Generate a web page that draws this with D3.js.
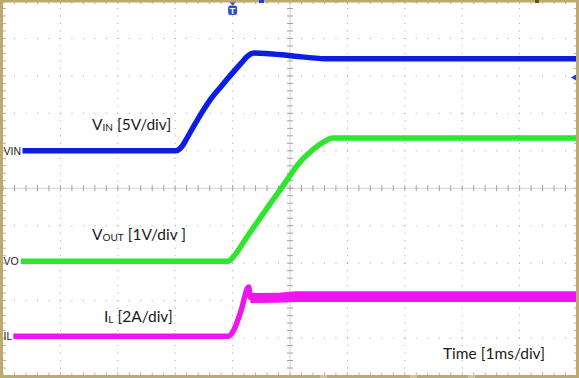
<!DOCTYPE html>
<html>
<head>
<meta charset="utf-8">
<script src="https://cdn.jsdelivr.net/npm/d3@7"></script>
<style>
  body { margin: 0; background: #fff; }
  svg { display: block; }
</style>
</head>
<body>
<svg id="chart" width="579" height="378"></svg>
<script>
// Scope capture, time in ms (trigger at 0), values in channel units
const vinTime  = [-3.66, -0.99, -0.88, -0.78, -0.60, -0.40, -0.20, 0.0, 0.15, 0.27, 0.37, 0.58, 1.01, 1.62, 6.0];
const vinVolts = [0, 0, 0.6, 1.9, 4.3, 6.7, 8.6, 10.4, 11.7, 12.7, 13.05, 13.0, 12.7, 12.3, 12.3];

const voutTime  = [-3.69, -0.07, 0.0, 0.26, 0.61, 0.87, 1.18, 1.40, 1.58, 1.74, 6.0];
const voutVolts = [0, 0, 0.1, 0.67, 1.44, 2.0, 2.66, 2.98, 3.18, 3.29, 3.29];

const ilTime = [-3.82, -0.07, 0.02, 0.14, 0.28, 0.31, 6.0];
const ilAmps = [0, 0, 0.32, 1.29, 2.62, 2.06, 2.06];

// ripple envelope of the inductor current once switching starts
const ilRippleTime = [0.31, 0.8, 1.1, 6.0];
const ilRippleHigh = [2.30, 2.32, 2.40, 2.40];
const ilRippleLow  = [1.77, 1.78, 1.82, 1.82];

const xDivs = d3.range(-4, 7);      // 1 ms/div
const yDivs = d3.range(-5, 6);

const svg = d3.select("#chart");

const x = d3.scaleLinear().domain([-4, 6]).range([3, 577]);
const y = d3.scaleLinear().domain([-5, 5]).range([375.5, 1]);

const minorX = d3.range(-4, 6.001, 0.2);
const minorY = d3.range(-5, 5.001, 0.2);

// dotted graticule
const grid = svg.append("g").attr("fill", "#a0a0a0");
xDivs.filter(d => d > -4 && d < 6 && d !== 1).forEach(d => {
  grid.selectAll(null)
    .data(minorY)
    .join("rect")
    .attr("x", x(d) - 0.5)
    .attr("y", v => y(v) - 0.5)
    .attr("width", 1)
    .attr("height", 1);
});
yDivs.filter(d => d > -5 && d < 5 && d !== 0).forEach(d => {
  grid.selectAll(null)
    .data(minorX)
    .join("rect")
    .attr("x", v => x(v) - 0.5)
    .attr("y", y(d) - 0.5)
    .attr("width", 1)
    .attr("height", 1);
});

// center axes with minor ticks
const center = svg.append("g").attr("stroke-width", 1);
center.append("line")
  .attr("x1", x(-4)).attr("x2", x(6))
  .attr("y1", y(0)).attr("y2", y(0))
  .attr("stroke", "#d2d2d2");
center.append("line")
  .attr("x1", x(1)).attr("x2", x(1))
  .attr("y1", y(-5)).attr("y2", y(5))
  .attr("stroke", "#d2d2d2");
center.selectAll(".tx")
  .data(minorX)
  .join("line")
  .attr("x1", d => x(d)).attr("x2", d => x(d))
  .attr("y1", y(0) - 3).attr("y2", y(0) + 3)
  .attr("stroke", "#a0a0a0");
center.selectAll(".ty")
  .data(minorY)
  .join("line")
  .attr("y1", d => y(d)).attr("y2", d => y(d))
  .attr("x1", x(1) - 3).attr("x2", x(1) + 3)
  .attr("stroke", "#a0a0a0");

// border ticks
const edge = svg.append("g").attr("stroke", "#b0b0b0").attr("stroke-width", 1);
edge.selectAll(".bt")
  .data(minorX)
  .join("line")
  .attr("x1", d => x(d)).attr("x2", d => x(d))
  .attr("y1", y(5)).attr("y2", y(5) + 3);
edge.selectAll(".bb")
  .data(minorX)
  .join("line")
  .attr("x1", d => x(d)).attr("x2", d => x(d))
  .attr("y1", y(-5)).attr("y2", y(-5) - 3);
edge.selectAll(".bl")
  .data(minorY)
  .join("line")
  .attr("y1", d => y(d)).attr("y2", d => y(d))
  .attr("x1", x(-4)).attr("x2", x(-4) + 3);
edge.selectAll(".br")
  .data(minorY)
  .join("line")
  .attr("y1", d => y(d)).attr("y2", d => y(d))
  .attr("x1", x(6)).attr("x2", x(6) - 3);

// traces
const channels = [
  { name: "VIN", color: "#0c1ee6", perDiv: 5, offset: 1.0,  time: vinTime,  vals: vinVolts },
  { name: "VO",  color: "#2ee62e", perDiv: 1, offset: -1.95, time: voutTime, vals: voutVolts },
  { name: "IL",  color: "#f014f0", perDiv: 2, offset: -3.95, time: ilTime,   vals: ilAmps }
];

const il = channels[2];
svg.append("path")
  .datum(ilRippleTime.map((t, i) => [t, ilRippleHigh[i], ilRippleLow[i]]))
  .attr("fill", il.color)
  .attr("d", d3.area()
    .x(d => x(d[0]))
    .y0(d => y(il.offset + d[2] / il.perDiv))
    .y1(d => y(il.offset + d[1] / il.perDiv)));

channels.forEach(ch => {
  const line = d3.line()
    .x(d => x(d[0]))
    .y(d => y(ch.offset + d[1] / ch.perDiv))
    .curve(d3.curveMonotoneX);
  svg.append("path")
    .datum(ch.time.map((t, i) => [t, ch.vals[i]]))
    .attr("fill", "none")
    .attr("stroke", ch.color)
    .attr("stroke-width", 5.5)
    .attr("d", line);

  // ground marker label
  svg.append("text")
    .attr("x", 3.5)
    .attr("y", y(ch.offset))
    .attr("dy", "0.36em")
    .attr("font-family", "Liberation Sans, Arial, sans-serif")
    .attr("font-size", 10.5)
    .attr("fill", "#1a1a1a")
    .text(ch.name);
});

// annotations
const font = "Lato, 'Open Sans', sans-serif";
const notes = [
  { x: 92,  y: 130,   main: "V", sub: "IN",  rest: " [5V/div]" },
  { x: 92,  y: 240,   main: "V", sub: "OUT", rest: " [1V/div ]" },
  { x: 104, y: 321.5, main: "I", sub: "L",   rest: " [2A/div]" }
];
notes.forEach(n => {
  const t = svg.append("text")
    .attr("x", n.x).attr("y", n.y)
    .attr("font-family", font)
    .attr("font-size", 15.5)
    .attr("fill", "#1a1a1a");
  t.append("tspan").text(n.main);
  t.append("tspan").attr("font-size", 10).attr("dy", 1).text(n.sub);
  t.append("tspan").attr("dy", -1).text(n.rest);
});
svg.append("text")
  .attr("x", 443).attr("y", 359)
  .attr("font-family", font)
  .attr("font-size", 15.5)
  .attr("fill", "#1a1a1a")
  .text("Time [1ms/div]");

// trigger marker
const tx = x(0);
svg.append("path")
  .attr("d", `M${tx - 4},1.5 L${tx + 4},1.5 L${tx},5.5 Z`)
  .attr("fill", "#3050c8");
svg.append("rect")
  .attr("x", tx - 4.5).attr("y", 5.5)
  .attr("width", 9).attr("height", 9.5)
  .attr("rx", 2.5)
  .attr("fill", "#3050c8");
svg.append("text")
  .attr("x", tx).attr("y", 13.5)
  .attr("text-anchor", "middle")
  .attr("font-family", "Liberation Sans, Arial, sans-serif")
  .attr("font-weight", "bold")
  .attr("font-size", 9)
  .attr("fill", "#fff")
  .text("T");

// trigger level arrow on right edge
svg.append("path")
  .attr("d", `M571,77.5 L576,74.5 L576,80.5 Z`)
  .attr("fill", "#2040d8");

// frame
svg.append("rect")
  .attr("x", 1.5).attr("y", 1)
  .attr("width", 576).attr("height", 375.5)
  .attr("fill", "none")
  .attr("stroke", "#bda96c")
  .attr("stroke-width", 3);

// small markers in the frame
svg.append("rect").attr("x", 259).attr("y", 0).attr("width", 5).attr("height", 3).attr("fill", "#2040d8");
svg.append("rect").attr("x", 535).attr("y", 0).attr("width", 4).attr("height", 3).attr("fill", "#6a5020");
[320, 410, 468].forEach(bx => {
  svg.append("rect").attr("x", bx).attr("y", 375).attr("width", 7).attr("height", 3).attr("fill", "#d8c48a");
});
</script>
</body>
</html>
